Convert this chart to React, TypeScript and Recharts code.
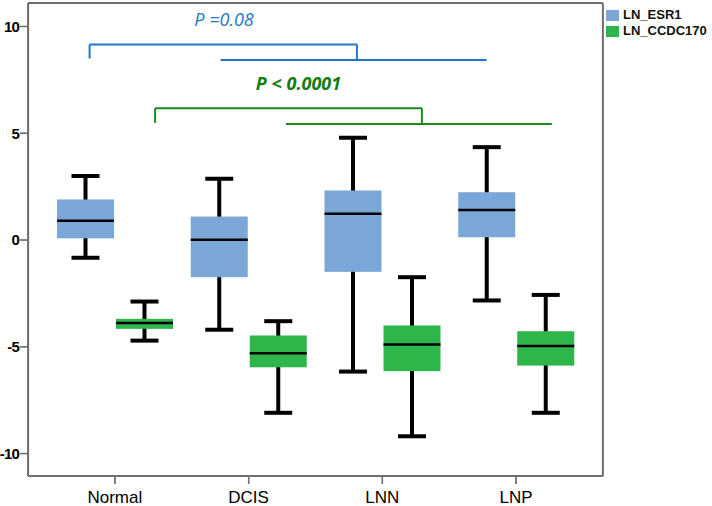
import React from "react";
import {
  ComposedChart,
  Bar,
  XAxis,
  YAxis,
  ReferenceLine,
  ReferenceDot,
} from "recharts";

const groups = ["Normal", "DCIS", "LNN", "LNP"];

const esr1Min = [-0.83, -4.2, -6.16, -2.83];
const esr1Q1 = [0.08, -1.74, -1.49, 0.13];
const esr1Median = [0.9, 0.01, 1.23, 1.41];
const esr1Q3 = [1.9, 1.1, 2.32, 2.24];
const esr1Max = [3.0, 2.87, 4.79, 4.35];

const ccdcMin = [-4.71, -8.09, -9.19, -8.09];
const ccdcQ1 = [-4.16, -5.96, -6.14, -5.88];
const ccdcMedian = [-3.88, -5.3, -4.89, -4.96];
const ccdcQ3 = [-3.69, -4.47, -4.0, -4.27];
const ccdcMax = [-2.88, -3.8, -1.74, -2.57];

const yTicks = [-10, -5, 0, 5, 10];
const yDomain = [-11.05, 11.1];
// plot frame edges in category-index units
const xFrame = [-0.65, 3.65];

// significance brackets, x in category-index units
const blueBracket = [
  [[-0.19, 8.5], [-0.19, 9.16]],
  [[-0.19, 9.16], [1.81, 9.16]],
  [[1.81, 9.16], [1.81, 8.43]],
  [[0.79, 8.43], [2.78, 8.43]],
];
const greenBracket = [
  [[0.3, 5.49], [0.3, 6.17]],
  [[0.3, 6.17], [2.296, 6.17]],
  [[2.296, 6.17], [2.296, 5.43]],
  [[1.279, 5.43], [3.268, 5.43]],
];
const blueLabel = { x: 0.816, y: 10.02, text: "P =0.08" };
const greenLabel = { x: 1.373, y: 7.03, text: "P < 0.0001" };

const BLUE = "#7aa7d7";
const GREEN = "#2fb64b";
const FRAME = "#6e6e6e";

const data = groups.map((g, i) => ({
  group: g,
  idx: i,
  esr1: [esr1Q1[i], esr1Q3[i]],
  esr1Stats: { min: esr1Min[i], q1: esr1Q1[i], med: esr1Median[i], q3: esr1Q3[i], max: esr1Max[i] },
  ccdc: [ccdcQ1[i], ccdcQ3[i]],
  ccdcStats: { min: ccdcMin[i], q1: ccdcQ1[i], med: ccdcMedian[i], q3: ccdcQ3[i], max: ccdcMax[i] },
}));

const makeBox = (statsKey: string, color: string) => (props: any) => {
  const { x, y, width, height, payload } = props;
  const s = payload[statsKey];
  const top = Math.min(y, y + height);
  const h = Math.abs(height);
  const k = h / (s.q3 - s.q1);
  const yOf = (v: number) => top + (s.q3 - v) * k;
  const cx = x + width / 2;
  const cap = 28;
  return (
    <g>
      <line x1={cx} x2={cx} y1={yOf(s.max)} y2={yOf(s.min)} stroke="#000" strokeWidth={4} />
      <line x1={cx - cap / 2} x2={cx + cap / 2} y1={yOf(s.max)} y2={yOf(s.max)} stroke="#000" strokeWidth={4} />
      <line x1={cx - cap / 2} x2={cx + cap / 2} y1={yOf(s.min)} y2={yOf(s.min)} stroke="#000" strokeWidth={4} />
      <rect x={x} y={top} width={width} height={h} fill={color} />
      <line x1={x} x2={x + width} y1={yOf(s.med)} y2={yOf(s.med)} stroke="#000" strokeWidth={2.5} />
    </g>
  );
};

const renderLabel = (text: string, color: string, bold: boolean) => (p: any) => (
  <text
    x={p.cx}
    y={p.cy}
    textAnchor="middle"
    fill={color}
    fontSize={18}
    fontStyle="italic"
    fontWeight={bold ? 700 : 400}
    fontFamily="'Open Sans', 'Noto Sans', sans-serif"
  >
    {text}
  </text>
);

const seg = (key: string, a: number[], b: number[], stroke: string, w: number) => (
  <ReferenceLine
    key={key}
    xAxisId="num"
    ifOverflow="visible"
    segment={[{ x: a[0], y: a[1] }, { x: b[0], y: b[1] }]}
    stroke={stroke}
    strokeWidth={w}
  />
);

// tick mark lengths in data units (8px)
const yTickLen = 8 / 133.7;
const xTickLen = 8 / 21.35;

export default function App() {
  return (
    <div style={{ position: "absolute", left: 0, top: 0, width: 712, height: 506, background: "#fff" }}>
      <ComposedChart
        width={712}
        height={506}
        data={data}
        margin={{ top: 3, right: 109, bottom: 0, left: 0 }}
        barSize={57}
        barGap={2}
      >
        <XAxis
          dataKey="group"
          padding={{ left: 20, right: 20 }}
          height={30}
          tickSize={8}
          tickMargin={7}
          stroke={FRAME}
          tick={{ fill: "#000", fontSize: 17, fontFamily: "'Liberation Sans', Arial, sans-serif" }}
        />
        <XAxis
          xAxisId="num"
          type="number"
          orientation="top"
          domain={[0, 3]}
          padding={{ left: 87, right: 87 }}
          height={0}
          tick={false}
          tickLine={false}
          axisLine={false}
          allowDataOverflow
        />
        <YAxis
          domain={yDomain}
          ticks={yTicks}
          width={28}
          tickSize={8}
          tickMargin={1}
          stroke={FRAME}
          allowDataOverflow
          tick={{ fill: "#000", fontSize: 15, fontWeight: 700, fontFamily: "'Liberation Sans', Arial, sans-serif", letterSpacing: -0.8 }}
        />
        <Bar dataKey="esr1" name="LN_ESR1" fill={BLUE} shape={makeBox("esr1Stats", BLUE)} isAnimationActive={false} />
        <Bar dataKey="ccdc" name="LN_CCDC170" fill={GREEN} shape={makeBox("ccdcStats", GREEN)} isAnimationActive={false} />
        {/* plot frame */}
        {seg("fl", [xFrame[0], yDomain[0]], [xFrame[0], yDomain[1]], FRAME, 2)}
        {seg("fr", [xFrame[1], yDomain[0]], [xFrame[1], yDomain[1]], FRAME, 2)}
        {seg("ft", [xFrame[0], yDomain[1]], [xFrame[1], yDomain[1]], FRAME, 2)}
        {seg("fb", [xFrame[0], yDomain[0]], [xFrame[1], yDomain[0]], FRAME, 2)}
        {yTicks.map((t) => seg("yt" + t, [xFrame[0] - yTickLen, t], [xFrame[0], t], FRAME, 1.5))}
        {data.map((d) => seg("xt" + d.idx, [d.idx, yDomain[0]], [d.idx, yDomain[0] - xTickLen], FRAME, 1.5))}
        {blueBracket.map((s, i) => seg("b" + i, s[0], s[1], "#1f78c8", 2))}
        {greenBracket.map((s, i) => seg("g" + i, s[0], s[1], "#1d8a1d", 2))}
        <ReferenceDot
          xAxisId="num"
          x={blueLabel.x}
          y={blueLabel.y}
          r={0}
          ifOverflow="visible"
          shape={renderLabel(blueLabel.text, "#1f78c8", false)}
        />
        <ReferenceDot
          xAxisId="num"
          x={greenLabel.x}
          y={greenLabel.y}
          r={0}
          ifOverflow="visible"
          shape={renderLabel(greenLabel.text, "#137d13", true)}
        />
      </ComposedChart>
      <div
        style={{
          position: "absolute",
          left: 606,
          top: 7,
          fontFamily: "'Liberation Sans', Arial, sans-serif",
          fontSize: 13,
          fontWeight: 700,
          color: "#111",
          lineHeight: "16px",
        }}
      >
        {[
          { name: "LN_ESR1", color: BLUE },
          { name: "LN_CCDC170", color: GREEN },
        ].map((item) => (
          <div key={item.name} style={{ display: "flex", alignItems: "center", height: 16 }}>
            <span style={{ width: 13, height: 11, background: item.color, marginRight: 4, display: "inline-block" }} />
            <span>{item.name}</span>
          </div>
        ))}
      </div>
    </div>
  );
}
